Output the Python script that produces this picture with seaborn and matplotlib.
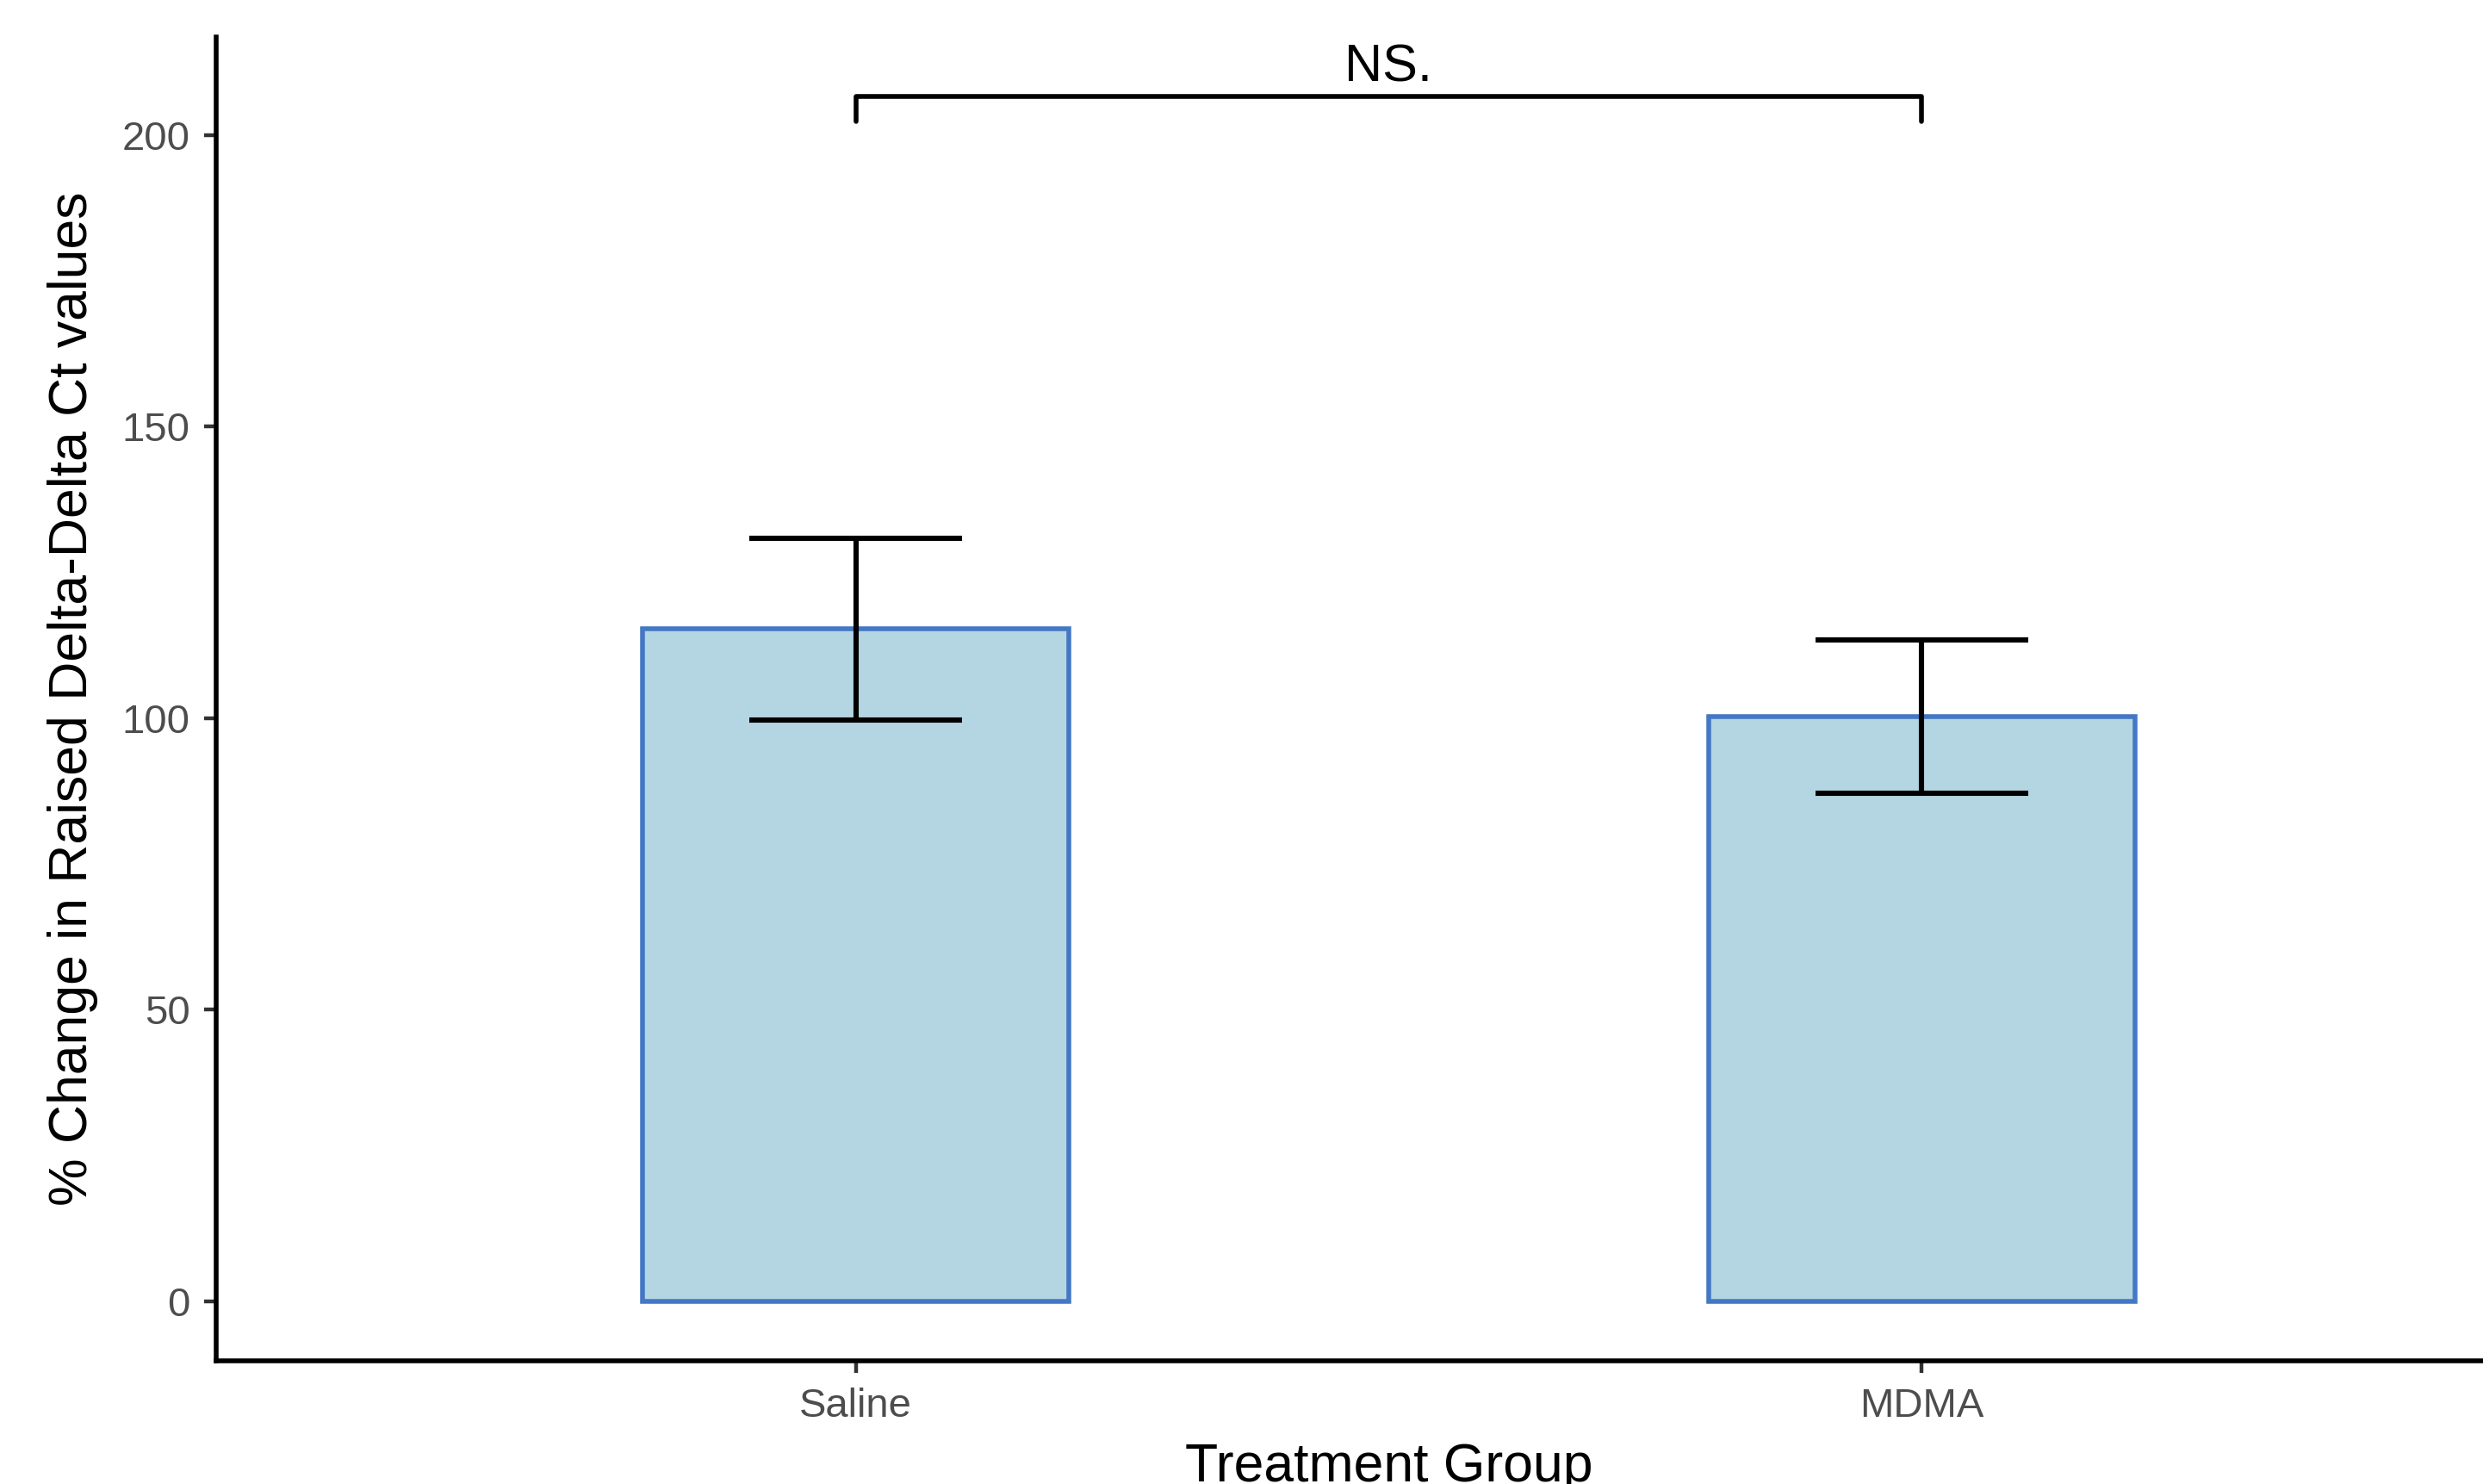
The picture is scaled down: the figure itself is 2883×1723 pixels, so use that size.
import matplotlib
matplotlib.use("Agg")
import matplotlib.pyplot as plt
import seaborn as sns
import pandas as pd

# values
groups = ["Saline", "MDMA"]
means = [115.3, 100.3]
sems = [15.6, 13.1]
sig_label = "NS."
bracket_top = 206.6
bracket_drop = 4.3

df = pd.DataFrame({"group": groups, "pct": means, "se": sems})

sns.set_style("white")
plt.rcParams["font.family"] = ["Liberation Sans", "DejaVu Sans"]

fig = plt.figure(figsize=(2883 / 200, 1723 / 200), dpi=200)
# panel runs past the right edge like the original export
ax = fig.add_axes([0.08706, 0.0830, 0.9445, 0.8921])

sns.barplot(data=df, x="group", y="pct", width=0.4, color="#B4D6E2",
            edgecolor="#4477C4", linewidth=2.0, saturation=1,
            errorbar=None, ax=ax)
ax.errorbar(range(len(groups)), df["pct"], yerr=df["se"], fmt="none",
            ecolor="black", elinewidth=2.2, capsize=0, zorder=3)
# caps as horizontal segments of width 0.2
for i, (m, s) in enumerate(zip(means, sems)):
    ax.hlines([m - s, m + s], i - 0.1, i + 0.1, colors="black", lw=2.2, zorder=3)

# significance bracket
ax.plot([0, 0, 1, 1],
        [bracket_top - bracket_drop, bracket_top, bracket_top, bracket_top - bracket_drop],
        color="black", lw=2.0, clip_on=False)
ax.text(0.5, bracket_top + 0.6, sig_label, ha="center", va="bottom",
        fontsize=22, color="black")

ax.set_xlim(-0.6, 1.6)
ax.set_ylim(-10.19, 216.8)
ax.set_yticks([0, 50, 100, 150, 200])

sns.despine(ax=ax)
for side in ["left", "bottom"]:
    ax.spines[side].set_linewidth(2.0)
    ax.spines[side].set_color("black")

ax.tick_params(axis="both", length=5, width=1.6, color="#333333",
               labelsize=17, labelcolor="#4D4D4D", pad=6, left=True, bottom=True)

ax.set_xlabel("Treatment Group", fontsize=22.5, color="black", labelpad=7)
ax.set_ylabel("% Change in Raised Delta-Delta Ct values", fontsize=22.5,
              color="black", labelpad=10)

fig.savefig("out.png", dpi=200)
